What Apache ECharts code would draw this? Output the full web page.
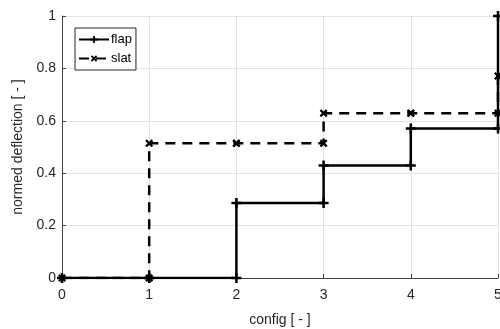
<!DOCTYPE html>
<html>
<head>
<meta charset="utf-8">
<script src="https://cdn.jsdelivr.net/npm/echarts@6/dist/echarts.min.js"></script>
<style>
  html, body { margin: 0; padding: 0; background: #fff; }
  #chart { width: 500px; height: 329px; }
</style>
</head>
<body>
<div id="chart"></div>
<script>
// Configuration index and normalised deflection per configuration
const configs = [0, 1, 2, 3, 4, 5];
const flap = [0, 0, 0.286, 0.429, 0.571, 1.0];
const slat = [0, 0.514, 0.514, 0.629, 0.629, 0.771];
const xTicks = [0, 1, 2, 3, 4, 5];
const yTicks = [0, 0.2, 0.4, 0.6, 0.8, 1];

// Stairs: hold each value until the next configuration, with a vertex at every corner
function stairs(xs, ys) {
  const pts = [[xs[0], ys[0]]];
  for (let i = 1; i < xs.length; i++) {
    pts.push([xs[i], ys[i - 1]]);
    pts.push([xs[i], ys[i]]);
  }
  return pts;
}

const plusPath = 'path://M3,0H5V3H8V5H5V8H3V5H0V3H3Z';
const textColor = '#262626';
const font = 'Liberation Sans, Arial, Helvetica, sans-serif';

const chart = echarts.init(document.getElementById('chart'), null, { renderer: 'canvas' });
chart.setOption({
  animation: false,
  backgroundColor: '#ffffff',
  grid: { left: 62, right: 2, top: 16, bottom: 51, containLabel: false, outerBoundsMode: 'none' },
  legend: {
    left: 75, top: 28,
    orient: 'vertical',
    backgroundColor: '#ffffff',
    borderColor: '#262626', borderWidth: 1, borderRadius: 0,
    padding: [5, 4, 5, 3],
    itemGap: 6,
    itemWidth: 30, itemHeight: 9,
    textStyle: { fontFamily: font, fontSize: 13, color: '#000', padding: [0, 0, 0, -3] },
    data: ['flap', 'slat']
  },
  xAxis: {
    type: 'value', min: 0, max: 5, interval: 1,
    name: 'config [ - ]', nameLocation: 'middle', nameGap: 35,
    nameTextStyle: { fontFamily: font, fontSize: 14, color: textColor },
    axisLine: { show: true, onZero: false, lineStyle: { color: '#404040', width: 1 } },
    axisTick: { show: true, inside: true, length: 4, lineStyle: { color: '#404040' } },
    axisLabel: { fontFamily: font, fontSize: 14, color: textColor, margin: 10,
      formatter: v => (xTicks.includes(v) ? String(v) : '') },
    splitLine: { show: true, lineStyle: { color: '#e3e3e3', width: 1 } }
  },
  yAxis: {
    type: 'value', min: 0, max: 1, interval: 0.2,
    name: 'normed deflection [ - ]', nameLocation: 'middle', nameGap: 34,
    nameTextStyle: { fontFamily: font, fontSize: 14, color: textColor },
    axisLine: { show: true, onZero: false, lineStyle: { color: '#404040', width: 1 } },
    axisTick: { show: true, inside: true, length: 4, lineStyle: { color: '#404040' } },
    axisLabel: { fontFamily: font, fontSize: 14, color: textColor, margin: 6,
      formatter: v => { const t = yTicks.find(k => Math.abs(k - v) < 1e-9); return t === undefined ? '' : String(t); } },
    splitLine: { show: true, lineStyle: { color: '#e3e3e3', width: 1 } }
  },
  series: [
    {
      name: 'slat', type: 'line',
      data: stairs(configs, slat),
      symbol: plusPath, symbolSize: 9, symbolRotate: 45,
      showAllSymbol: true,
      lineStyle: { color: '#000', width: 2.5, type: [10, 7] },
      itemStyle: { color: '#000', borderWidth: 0 },
      z: 2
    },
    {
      name: 'flap', type: 'line',
      data: stairs(configs, flap),
      symbol: plusPath, symbolSize: 10,
      showAllSymbol: true,
      lineStyle: { color: '#000', width: 2.5, type: 'solid' },
      itemStyle: { color: '#000', borderWidth: 0 },
      z: 3
    }
  ]
});
</script>
</body>
</html>
